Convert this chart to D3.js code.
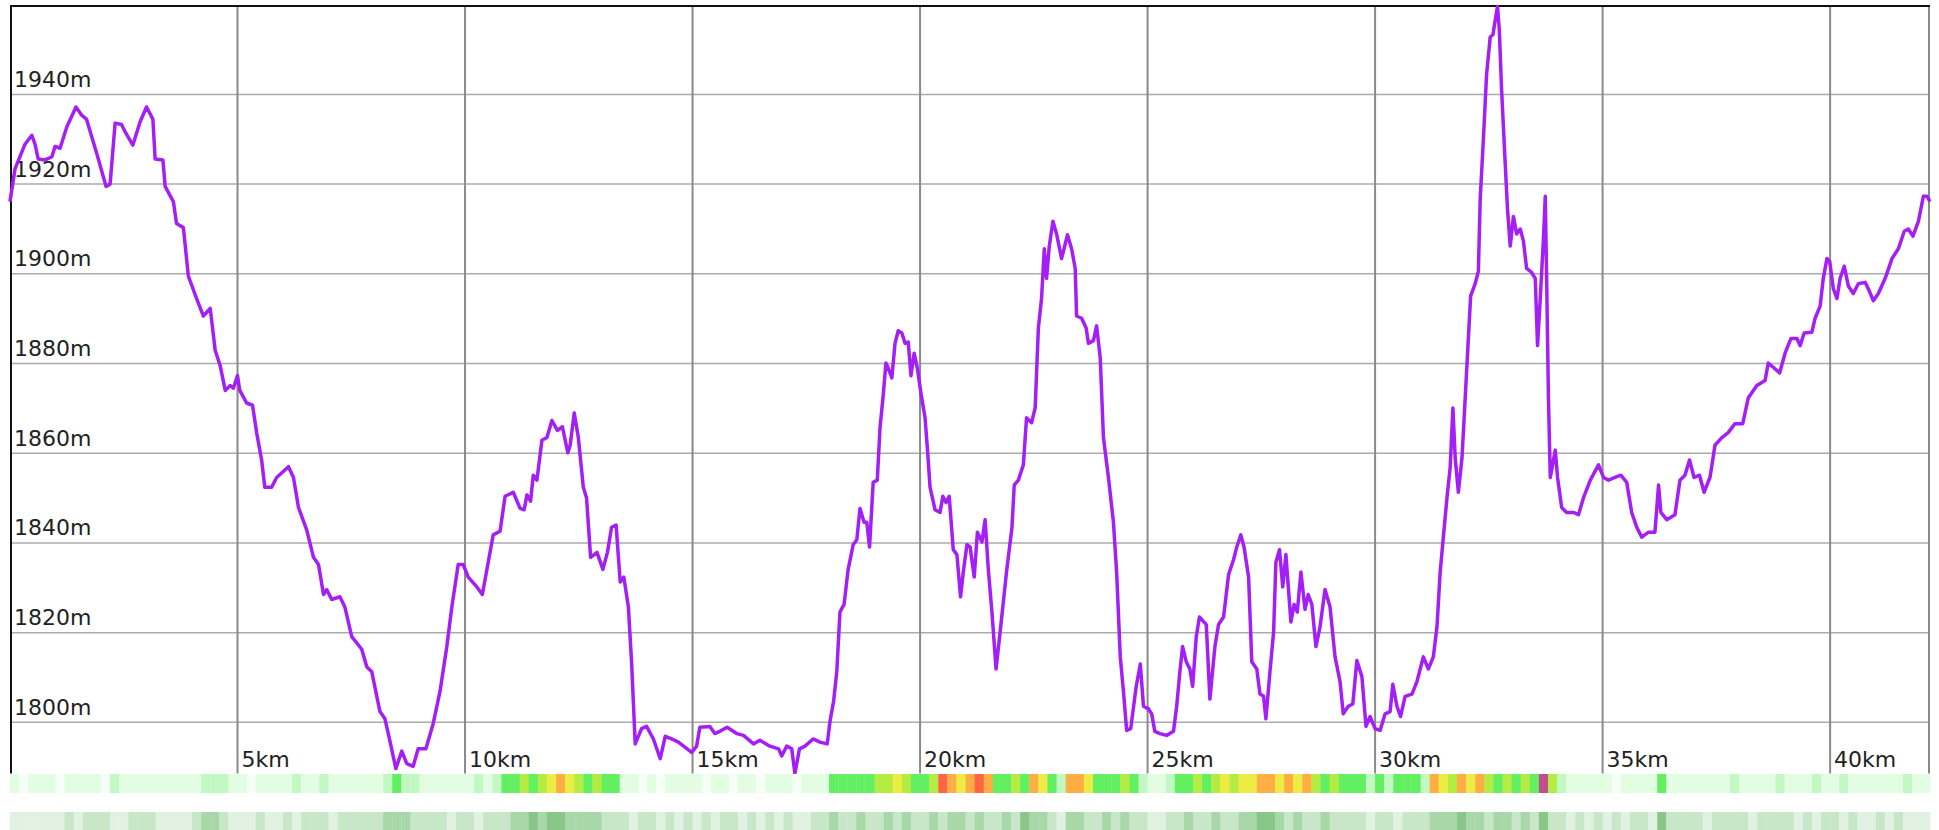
<!DOCTYPE html>
<html>
<head>
<meta charset="utf-8">
<script src="https://cdn.jsdelivr.net/npm/d3@7"></script>
<style>
body { margin: 0; background: #fff; }
svg { display: block; font-family: "DejaVu Sans", sans-serif; }
</style>
</head>
<body>
<script>

// elevation profile
var distKm = [0, 0.11, 0.33, 0.48, 0.55, 0.62, 0.77, 0.92, 0.99, 1.10, 1.25, 1.45, 1.58, 1.68, 1.91, 2.11, 2.20, 2.31, 2.45, 2.55,
2.70, 2.86, 3.00, 3.14, 3.19, 3.36, 3.41, 3.59, 3.66, 3.81, 3.92, 4.10, 4.25, 4.40, 4.51, 4.62, 4.73, 4.84, 4.91, 5.00,
5.05, 5.20, 5.33, 5.42, 5.53, 5.60, 5.75, 5.86, 6.12, 6.23, 6.34, 6.52, 6.67, 6.78, 6.89, 6.96, 7.07, 7.25, 7.36, 7.51,
7.73, 7.84, 7.95, 8.13, 8.24, 8.35, 8.48, 8.61, 8.72, 8.86, 8.97, 9.14, 9.30, 9.45, 9.60, 9.71, 9.85, 9.96, 10.07, 10.26,
10.38, 10.51, 10.62, 10.77, 10.88, 11.06, 11.21, 11.30, 11.36, 11.44, 11.50, 11.58, 11.69, 11.80, 11.91, 12.03, 12.14, 12.26, 12.31, 12.40,
12.49, 12.60, 12.67, 12.76, 12.90, 13.03, 13.13, 13.22, 13.32, 13.41, 13.49, 13.59, 13.66, 13.74, 13.88, 13.99, 14.14, 14.29, 14.40, 14.54,
14.69, 14.98, 15.09, 15.16, 15.38, 15.49, 15.60, 15.76, 15.97, 16.12, 16.34, 16.48, 16.70, 16.89, 16.96, 17.07, 17.18, 17.25, 17.35, 17.47,
17.65, 17.80, 17.96, 18.02, 18.10, 18.17, 18.24, 18.33, 18.42, 18.53, 18.61, 18.68, 18.77, 18.83, 18.89, 18.97, 19.06, 19.12, 19.19, 19.25,
19.30, 19.38, 19.45, 19.52, 19.60, 19.67, 19.74, 19.80, 19.87, 19.94, 20.02, 20.11, 20.16, 20.22, 20.33, 20.44, 20.50, 20.57, 20.64, 20.73,
20.81, 20.89, 20.95, 21.03, 21.10, 21.19, 21.26, 21.36, 21.43, 21.50, 21.58, 21.67, 21.76, 21.90, 22.02, 22.07, 22.16, 22.27, 22.34, 22.45,
22.53, 22.60, 22.67, 22.73, 22.78, 22.84, 22.92, 23.00, 23.11, 23.24, 23.33, 23.41, 23.44, 23.55, 23.65, 23.70, 23.81, 23.88, 23.96, 24.03,
24.14, 24.25, 24.32, 24.40, 24.47, 24.54, 24.63, 24.75, 24.84, 24.91, 25.02, 25.09, 25.16, 25.27, 25.42, 25.57, 25.64, 25.71, 25.77, 25.85,
25.93, 25.99, 26.07, 26.14, 26.29, 26.37, 26.48, 26.56, 26.67, 26.78, 26.89, 26.96, 27.05, 27.12, 27.22, 27.29, 27.40, 27.47, 27.55, 27.60,
27.69, 27.77, 27.82, 27.90, 27.97, 28.04, 28.15, 28.22, 28.29, 28.37, 28.46, 28.53, 28.61, 28.70, 28.79, 28.90, 29.01, 29.12, 29.23, 29.30,
29.41, 29.51, 29.60, 29.71, 29.80, 29.89, 30.00, 30.11, 30.22, 30.33, 30.39, 30.48, 30.56, 30.66, 30.81, 30.92, 31.06, 31.17, 31.28, 31.36,
31.43, 31.50, 31.58, 31.65, 31.71, 31.76, 31.83, 31.91, 31.98, 32.05, 32.10, 32.20, 32.27, 32.31, 32.38, 32.45, 32.53, 32.59, 32.64, 32.69,
32.73, 32.78, 32.86, 32.91, 32.97, 33.04, 33.11, 33.19, 33.26, 33.33, 33.44, 33.52, 33.57, 33.63, 33.70, 33.74, 33.77, 33.81, 33.85, 33.91,
33.96, 34.01, 34.10, 34.21, 34.36, 34.47, 34.58, 34.73, 34.91, 35.02, 35.13, 35.27, 35.40, 35.53, 35.64, 35.75, 35.86, 36.01, 36.15, 36.23,
36.28, 36.41, 36.59, 36.70, 36.81, 36.91, 37.01, 37.13, 37.23, 37.36, 37.47, 37.62, 37.76, 37.91, 38.08, 38.20, 38.39, 38.57, 38.64, 38.77,
38.89, 39.01, 39.14, 39.27, 39.34, 39.43, 39.60, 39.67, 39.78, 39.85, 39.93, 39.99, 40.07, 40.15, 40.22, 40.31, 40.40, 40.51, 40.62, 40.77,
40.86, 40.95, 41.06, 41.21, 41.36, 41.50, 41.63, 41.72, 41.82, 41.94, 42.05, 42.13, 42.195];

var elevM = [1916.1, 1923.4, 1928.9, 1930.9, 1928.9, 1925.6, 1925.4, 1926.1, 1928.4, 1928.0, 1932.8, 1937.2, 1935.3, 1934.5, 1926.7, 1919.5, 1920.0, 1933.6, 1933.3, 1931.3,
1928.7, 1933.9, 1937.2, 1934.5, 1925.6, 1925.4, 1919.5, 1916.1, 1911.2, 1910.3, 1899.5, 1894.5, 1890.6, 1892.3, 1882.9, 1879.5, 1874.0, 1875.1, 1874.5, 1877.3,
1874.0, 1871.2, 1870.7, 1864.6, 1858.5, 1852.4, 1852.4, 1854.6, 1857.0, 1854.6, 1847.9, 1842.9, 1836.8, 1835.2, 1828.5, 1829.6, 1827.4, 1828.0, 1825.7, 1819.1,
1816.3, 1812.4, 1811.3, 1802.4, 1800.8, 1795.8, 1789.7, 1793.6, 1790.8, 1790.2, 1794.1, 1794.1, 1799.7, 1806.9, 1816.9, 1825.7, 1835.2, 1835.2, 1832.4, 1830.2,
1828.5, 1835.7, 1841.8, 1842.6, 1850.4, 1851.3, 1847.7, 1847.4, 1850.7, 1849.3, 1855.1, 1854.0, 1862.9, 1863.5, 1867.3, 1865.1, 1865.9, 1860.1, 1861.8, 1869.0,
1863.5, 1852.4, 1850.1, 1836.8, 1837.9, 1834.1, 1837.9, 1843.5, 1844.0, 1831.3, 1832.4, 1825.7, 1813.5, 1795.2, 1798.6, 1799.1, 1796.3, 1791.9, 1796.9, 1796.3,
1795.6, 1793.3, 1794.7, 1798.9, 1799.1, 1797.5, 1798.0, 1798.9, 1797.5, 1797.1, 1795.2, 1796.0, 1794.7, 1794.1, 1792.5, 1794.7, 1794.1, 1788.6, 1794.1, 1794.7,
1796.3, 1795.6, 1795.2, 1800.2, 1804.7, 1811.3, 1824.6, 1826.3, 1834.1, 1839.6, 1840.7, 1847.7, 1844.6, 1844.6, 1839.1, 1853.5, 1854.0, 1865.7, 1872.9, 1880.1,
1879.0, 1876.8, 1884.5, 1887.3, 1886.8, 1884.5, 1884.8, 1877.3, 1882.3, 1879.0, 1873.4, 1867.9, 1861.2, 1852.4, 1847.4, 1846.8, 1850.4, 1849.0, 1850.4, 1838.5,
1837.4, 1828.0, 1833.5, 1839.6, 1839.1, 1832.4, 1842.4, 1840.2, 1845.2, 1834.1, 1824.6, 1811.9, 1820.2, 1833.5, 1843.5, 1852.9, 1854.0, 1857.4, 1867.9, 1866.8,
1870.1, 1887.9, 1894.5, 1905.6, 1899.0, 1906.2, 1911.7, 1908.9, 1903.4, 1908.7, 1905.6, 1901.2, 1890.6, 1890.1, 1887.9, 1884.5, 1885.1, 1888.4, 1881.2, 1863.5,
1854.6, 1844.6, 1833.5, 1814.6, 1806.9, 1798.2, 1798.6, 1808.0, 1813.0, 1803.6, 1803.0, 1801.9, 1798.0, 1797.5, 1797.1, 1798.0, 1803.6, 1811.3, 1816.9, 1813.5,
1811.9, 1808.0, 1819.1, 1823.5, 1821.8, 1805.2, 1816.9, 1821.8, 1823.5, 1832.9, 1836.3, 1839.1, 1841.8, 1839.1, 1832.4, 1813.5, 1811.9, 1806.3, 1805.8, 1800.8,
1811.3, 1820.2, 1835.7, 1838.5, 1830.2, 1837.4, 1822.4, 1826.3, 1824.6, 1833.5, 1825.2, 1828.5, 1826.3, 1816.9, 1821.3, 1829.6, 1825.7, 1814.6, 1809.1, 1801.9,
1803.6, 1804.1, 1813.8, 1810.2, 1799.1, 1801.3, 1798.6, 1798.2, 1801.9, 1802.4, 1808.5, 1803.6, 1801.3, 1805.8, 1806.3, 1809.1, 1814.6, 1811.9, 1814.6, 1821.3,
1833.5, 1841.3, 1850.1, 1856.8, 1870.1, 1859.0, 1851.3, 1859.0, 1872.3, 1885.6, 1895.1, 1897.8, 1900.6, 1916.7, 1930.0, 1944.4, 1952.8, 1953.3, 1956.6, 1959.6,
1954.4, 1941.1, 1924.5, 1914.5, 1906.2, 1912.8, 1908.9, 1910.0, 1907.3, 1901.2, 1900.3, 1899.0, 1884.0, 1894.5, 1907.8, 1917.3, 1899.0, 1872.3, 1854.6, 1857.9,
1860.7, 1854.6, 1847.9, 1846.8, 1846.8, 1846.3, 1850.1, 1854.0, 1857.4, 1854.6, 1854.0, 1854.6, 1855.1, 1853.5, 1846.8, 1843.5, 1841.3, 1842.4, 1842.4, 1852.9,
1846.8, 1845.2, 1846.3, 1854.0, 1855.1, 1858.5, 1854.6, 1855.1, 1851.3, 1854.6, 1861.8, 1863.5, 1864.6, 1866.6, 1866.6, 1872.3, 1875.1, 1876.2, 1880.1, 1879.0,
1877.9, 1882.3, 1885.6, 1885.6, 1884.0, 1886.8, 1887.0, 1890.1, 1892.8, 1899.0, 1903.4, 1902.8, 1896.7, 1894.5, 1899.0, 1901.7, 1897.3, 1895.6, 1897.8, 1898.1,
1896.2, 1894.0, 1895.6, 1899.0, 1903.4, 1905.6, 1909.5, 1910.0, 1908.4, 1911.7, 1917.3, 1917.3, 1916.1];

var yTicks = [1800, 1820, 1840, 1860, 1880, 1900, 1920, 1940];
var xTicks = [5, 10, 15, 20, 25, 30, 35, 40];
var totalKm = 42.195;

// colour bands under the chart, one value per 200 m
var binKm = 0.2;
var gradeLevel = [1,0,1,1,1,0,1,1,1,1,0,2,1,1,1,1,1,1,1,1,1,2,2,2,1,
1,0,1,1,1,1,2,1,1,2,1,1,1,1,1,1,2,3,2,2,1,1,1,1,1,
1,2,1,2,3,3,4,3,4,5,6,5,4,3,4,3,3,1,1,0,1,0,1,1,1,
1,0,1,1,0,1,1,0,1,1,1,0,1,1,1,3,3,3,3,3,4,4,5,4,3,
3,4,7,6,5,6,7,6,3,3,4,3,6,5,3,2,6,6,5,3,3,3,4,3,2,
1,1,2,3,3,4,3,4,5,4,5,5,6,6,5,6,5,6,4,3,4,3,3,3,2,
3,2,3,3,3,2,6,5,4,6,5,6,4,3,4,3,4,3,8,4,2,1,1,1,1,
1,0,1,1,1,1,3,1,1,1,1,1,1,1,2,1,1,1,1,2,1,1,1,2,1,1,2,1,1,1,1,1,1,2,1,1];
var effortLevel = [1,1,1,1,1,1,2,1,2,2,2,1,1,2,2,2,1,1,1,1,2,3,3,2,1,
1,1,2,1,1,2,1,2,2,2,1,2,2,2,2,2,3,3,3,2,2,2,2,1,2,
2,1,2,2,2,3,3,4,3,4,4,3,3,3,3,2,2,2,1,2,2,1,2,1,2,
1,2,1,2,2,1,2,1,2,1,2,1,1,2,2,3,2,2,3,2,2,3,2,3,2,
2,3,2,3,3,2,3,2,2,3,2,4,3,3,2,1,3,3,2,2,3,2,3,2,2,
1,1,2,2,3,2,2,3,2,2,3,3,4,4,3,2,3,2,2,3,2,2,2,2,1,
2,2,1,2,2,2,3,3,3,4,3,3,2,3,3,2,3,2,4,2,2,1,2,1,2,
1,2,1,2,2,1,4,2,2,2,2,1,2,2,2,2,1,2,2,2,2,1,2,1,2,2,1,2,1,1,2,1,2,1,1,1];

var gradeColors = ["#f6fff6", "#e2fde2", "#c2f8c2", "#62ef62", "#b4ec44", "#ecec44", "#ffae44", "#ff6444", "#c0508c"];
var effortColors = ["#f5fbf5", "#e2f2e2", "#c8e6c8", "#a8d7a8", "#88c788", "#66b466"];

var svg = d3.select("body").append("svg")
.attr("width", 1939)
.attr("height", 830);

var x = d3.scaleLinear().domain([0, totalKm]).range([10, 1930]);
var y = d3.scaleLinear().domain(d3.extent(elevM)).range([773.5, 6.5]);

// horizontal grid
svg.selectAll("line.hgrid")
.data(yTicks)
.enter()
.append("line")
.attr("class", "hgrid")
.attr("x1", 11)
.attr("x2", 1929)
.attr("y1", function (d) { return y(d); })
.attr("y2", function (d) { return y(d); })
.attr("stroke", "#ababab")
.attr("stroke-width", 1.5);

// vertical grid
svg.selectAll("line.vgrid")
.data(xTicks)
.enter()
.append("line")
.attr("class", "vgrid")
.attr("x1", function (d) { return x(d); })
.attr("x2", function (d) { return x(d); })
.attr("y1", 6)
.attr("y2", 773.5)
.attr("stroke", "#8a8a8a")
.attr("stroke-width", 2);

// frame
svg.append("line").attr("x1", 1929).attr("x2", 1929).attr("y1", 6).attr("y2", 773.5)
.attr("stroke", "#8a8a8a").attr("stroke-width", 2);
svg.append("line").attr("x1", 10).attr("x2", 1930).attr("y1", 6).attr("y2", 6)
.attr("stroke", "#111").attr("stroke-width", 2);
svg.append("line").attr("x1", 11).attr("x2", 11).attr("y1", 5).attr("y2", 773.5)
.attr("stroke", "#111").attr("stroke-width", 2);

// labels
svg.selectAll("text.ylab")
.data(yTicks)
.enter()
.append("text")
.attr("class", "ylab")
.attr("x", 14)
.attr("y", function (d) { return y(d) - 7.5; })
.attr("font-size", 22)
.attr("fill", "#222")
.text(function (d) { return d + "m"; });

svg.selectAll("text.xlab")
.data(xTicks)
.enter()
.append("text")
.attr("class", "xlab")
.attr("x", function (d) { return x(d) + 4; })
.attr("y", 766.5)
.attr("font-size", 22)
.attr("fill", "#222")
.text(function (d) { return d + "km"; });

// elevation line
var line = d3.line()
.x(function (d, i) { return x(distKm[i]); })
.y(function (d) { return y(d); });

svg.append("path")
.datum(elevM)
.attr("d", line)
.attr("fill", "none")
.attr("stroke", "#a41ff5")
.attr("stroke-width", 3.5)
.attr("stroke-linejoin", "round");

// colour bands
function band(levels, colors, top, h) {
  svg.append("g").selectAll("rect")
  .data(levels)
  .enter()
  .append("rect")
  .attr("x", function (d, i) { return x(i * binKm); })
  .attr("width", function (d, i) { return x(Math.min((i + 1) * binKm, totalKm)) - x(i * binKm) + 0.4; })
  .attr("y", top)
  .attr("height", h)
  .attr("fill", function (d) { return colors[d]; });
}
band(gradeLevel, gradeColors, 774, 19);
band(effortLevel, effortColors, 812, 18);

</script>
</body>
</html>
